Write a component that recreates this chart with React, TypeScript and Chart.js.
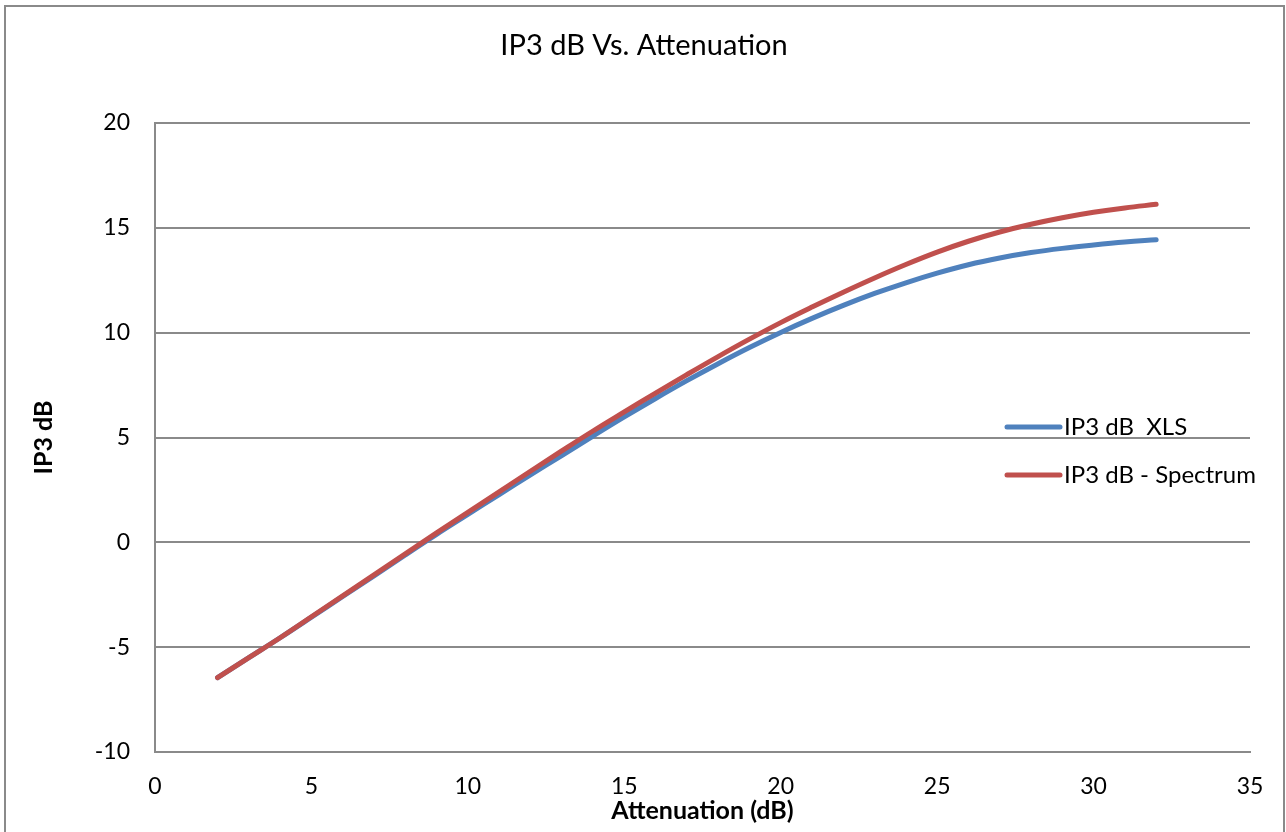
import React, { useEffect, useRef } from "react";
import { Chart, registerables } from "chart.js";

Chart.register(...registerables);

const attenuation: number[] = [2, 3, 4, 5, 6, 7, 8, 9, 10, 11, 12, 13, 14, 15, 16, 17, 18, 19, 20, 21, 22, 23, 24, 25, 26, 27, 28, 29, 30, 31, 32];
const ip3Xls: number[] = [-6.45, -5.5, -4.55, -3.57, -2.58, -1.6, -0.6, 0.38, 1.33, 2.28, 3.22, 4.14, 5.07, 5.98, 6.86, 7.71, 8.52, 9.29, 10.01, 10.68, 11.3, 11.87, 12.38, 12.84, 13.24, 13.56, 13.82, 14.02, 14.18, 14.32, 14.43];
const ip3Spectrum: number[] = [-6.45, -5.5, -4.55, -3.55, -2.55, -1.55, -0.55, 0.45, 1.43, 2.41, 3.39, 4.36, 5.31, 6.22, 7.12, 8.0, 8.86, 9.69, 10.48, 11.22, 11.93, 12.61, 13.25, 13.84, 14.36, 14.8, 15.17, 15.48, 15.74, 15.95, 16.12];
const seriesLabels: string[] = ["IP3 dB  XLS", "IP3 dB - Spectrum"];
const seriesColors: string[] = ["#4F81BD", "#C0504D"];
const chartTitle = "IP3 dB Vs. Attenuation";
const xTitle = "Attenuation (dB)";
const yTitle = "IP3 dB";

const FONT = "Lato, Calibri, 'Noto Sans', sans-serif";
const GRID = "#8a8a8a";

const framePlugin = {
  id: "frame",
  beforeDraw(chart: any) {
    const ctx = chart.ctx;
    ctx.save();
    ctx.fillStyle = "#ffffff";
    ctx.fillRect(0, 0, chart.width, chart.height);
    ctx.strokeStyle = GRID;
    ctx.lineWidth = 2;
    ctx.strokeRect(5, 6, 1279, 900);
    ctx.restore();
  },
};

const titlePlugin = {
  id: "centeredTitle",
  afterDraw(chart: any) {
    const ctx = chart.ctx;
    ctx.save();
    ctx.font = `29px ${FONT}`;
    ctx.fillStyle = "#000000";
    ctx.textAlign = "center";
    ctx.textBaseline = "middle";
    ctx.fillText(chartTitle, 644, 46);
    ctx.restore();
  },
};

const legendPlugin = {
  id: "insideLegend",
  afterDraw(chart: any) {
    const ctx = chart.ctx;
    const ds = chart.data.datasets;
    ctx.save();
    ctx.font = `24px ${FONT}`;
    ctx.textBaseline = "middle";
    ctx.textAlign = "left";
    ds.forEach((d: any, i: number) => {
      const y = 427 + i * 48;
      ctx.strokeStyle = d.borderColor;
      ctx.lineWidth = 5;
      ctx.lineCap = "round";
      ctx.beginPath();
      ctx.moveTo(1007, y);
      ctx.lineTo(1060, y);
      ctx.stroke();
      ctx.fillStyle = "#000000";
      ctx.fillText(d.label, 1064, y);
    });
    ctx.restore();
  },
};

export default function App() {
  const ref = useRef<HTMLCanvasElement | null>(null);

  useEffect(() => {
    if (!ref.current) return;
    const mk = (ys: number[]) => attenuation.map((x, i) => ({ x, y: ys[i] }));
    const chart = new Chart(ref.current, {
      type: "line",
      data: {
        datasets: [
          {
            label: seriesLabels[0],
            data: mk(ip3Xls),
            borderColor: seriesColors[0],
            backgroundColor: seriesColors[0],
            borderWidth: 5,
            pointRadius: 0,
            tension: 0.4,
            borderCapStyle: "round",
            borderJoinStyle: "round",
            order: 1,
          },
          {
            label: seriesLabels[1],
            data: mk(ip3Spectrum),
            borderColor: seriesColors[1],
            backgroundColor: seriesColors[1],
            borderWidth: 5,
            pointRadius: 0,
            tension: 0.4,
            borderCapStyle: "round",
            borderJoinStyle: "round",
            order: 0,
          },
        ],
      },
      options: {
        responsive: false,
        animation: false,
        devicePixelRatio: 1,
        layout: { padding: { top: 123, left: 0, right: 36, bottom: 0 } },
        plugins: {
          legend: { display: false },
          tooltip: { enabled: false },
          title: { display: false },
        },
        scales: {
          x: {
            type: "linear",
            min: 0,
            max: 35,
            grid: { display: false, drawTicks: false },
            border: { display: true, color: GRID, width: 2 },
            ticks: {
              stepSize: 5,
              color: "#000000",
              padding: 21,
              font: { family: FONT, size: 23 },
            },
            title: {
              display: true,
              text: xTitle,
              color: "#000000",
              font: { family: FONT, size: 25, weight: "bold" },
              padding: { top: 0, bottom: 6 },
            },
            afterFit(scale: any) {
              scale.height = 80;
            },
          },
          y: {
            type: "linear",
            min: -10,
            max: 20,
            grid: { display: true, drawTicks: false, color: GRID, lineWidth: 2 },
            border: { display: true, color: GRID, width: 2 },
            ticks: {
              stepSize: 5,
              color: "#000000",
              padding: 25,
              font: { family: FONT, size: 23 },
            },
            title: {
              display: true,
              text: yTitle,
              color: "#000000",
              font: { family: FONT, size: 25, weight: "bold" },
              padding: { top: 29, bottom: 0 },
            },
            afterFit(scale: any) {
              scale.width = 155;
            },
          },
        },
      },
      plugins: [framePlugin, titlePlugin, legendPlugin],
    });
    return () => chart.destroy();
  }, []);

  return (
    <div style={{ position: "fixed", left: 0, top: 0, width: 1286, height: 832, overflow: "hidden", background: "#fff" }}>
      <canvas ref={ref} width={1286} height={832} style={{ display: "block", width: 1286, height: 832 }} />
    </div>
  );
}
